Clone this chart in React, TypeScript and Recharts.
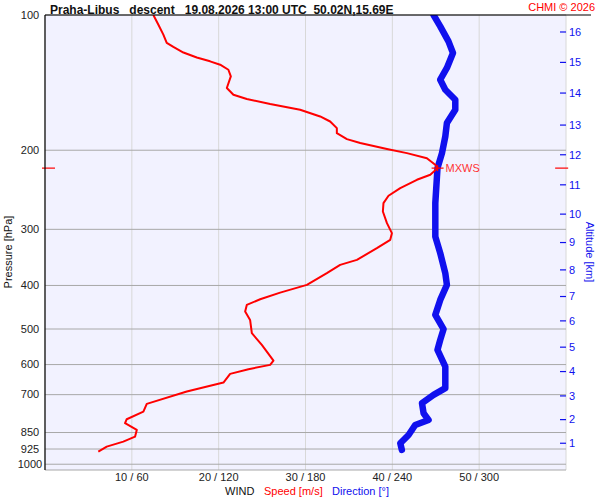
import React from "react";
import {
  ScatterChart,
  Scatter,
  XAxis,
  YAxis,
  CartesianGrid,
  ReferenceLine,
} from "recharts";

// pressure levels drawn on the left axis [hPa]
const pressureTicks = [100, 200, 300, 400, 500, 600, 700, 850, 925, 1000];

// wind speed axis [m/s], label shows speed / direction
const speedTicks = [0, 10, 20, 30, 40, 50, 60];
const speedTickLabels = ["", "10 / 60", "20 / 120", "30 / 180", "40 / 240", "50 / 300", ""];

// altitude scale on the right: km and the pressure it sits at
const altitudeKm = [1, 2, 3, 4, 5, 6, 7, 8, 9, 10, 11, 12, 13, 14, 15, 16];
const altitudePressure = [
  898, 795.6, 704.6, 621.9, 548.8, 479.6, 423.3, 369.3, 321, 277.5, 238.8,
  204.7, 175.8, 149.2, 127.5, 109.1,
];

// wind speed profile
const speedPressure = [
  100, 105.1, 110.6, 115.4, 117.8, 121.2, 124.3, 126.8, 129, 132.4, 137,
  145.4, 150.5, 153.8, 157.8, 162.5, 168.2, 172.6, 178.6, 183.3, 188.9, 192.8,
  198.8, 203, 208.3, 215.5, 219.2, 226.8, 232.7, 242.8, 252.6, 262.2, 273.8,
  290.6, 305.9, 316.6, 330.4, 350.8, 359.9, 375.6, 398.8, 414.9, 429.2, 441.9,
  457.3, 477.2, 510.7, 542.4, 587.8, 600.9, 614.3, 629.3, 658, 689, 734,
  763.6, 794, 810.4, 838.8, 868.2, 890.7, 913.8, 937.5,
];
const speedValues = [
  12.48, 13.06, 13.63, 14.02, 14.78, 15.94, 17.48, 19.01, 20.17, 21.12, 21.4,
  20.94, 21.7, 23.24, 25.93, 29.38, 31.69, 32.84, 33.61, 33.61, 34.77, 36.3,
  39.38, 41.68, 43.98, 44.94, 45.21, 44.37, 42.83, 40.91, 39.56, 38.98, 38.91,
  39.38, 39.95, 39.76, 38.22, 35.92, 33.99, 32.46, 30.16, 27.08, 24.78, 23.24,
  23.05, 23.62, 23.82, 24.97, 26.31, 25.93, 23.43, 21.32, 20.55, 16.33, 11.72,
  11.33, 9.41, 9.22, 10.57, 10.37, 9.02, 7.11, 6.14,
];

// wind direction profile
const dirPressure = [
  100, 106, 114.5, 121.5, 131.2, 139.3, 146.7, 154.4, 162.5, 174, 186.4, 203,
  219.2, 262.2, 311.3, 338.9, 375.6, 398.8, 430.7, 465.1, 500.4, 528.7, 556.6,
  606.2, 677.1, 701, 731.4, 770, 797, 817.7, 860.7, 898, 929.2,
];
const dirValues = [
  268.5, 273.1, 278.8, 281.9, 277.7, 273.1, 276.6, 283.5, 283.5, 277.7, 276.6,
  274.3, 271.2, 269.7, 269.7, 273.1, 276.6, 277.7, 273.1, 269.7, 275.4, 273.1,
  271.2, 276.6, 276.6, 268.5, 260.5, 261.6, 265, 255.8, 251.2, 245.5, 246.6,
];

// maximum wind
const maxWindSpeed = 45.21;
const maxWindPressure = 219.2;

const speedData = speedPressure.map((p, i) => ({ p, v: speedValues[i] }));
const dirData = dirPressure.map((p, i) => ({ p, v: dirValues[i] }));
const maxWindData = [{ p: maxWindPressure, v: maxWindSpeed }];

const FONT = "'Liberation Sans', Arial, sans-serif";
const RED = "#ff0000";
const BLUE = "#1010ee";

const NoDot = () => <g />;

const PressureTick = (props: any) => {
  const { x, y, payload } = props;
  return (
    <text x={x} y={y} dy="0.35em" textAnchor="middle" fontSize={11} fontFamily={FONT} fill="#222">
      {payload.value}
    </text>
  );
};

const AltitudeTick = (props: any) => {
  const { x, y, payload } = props;
  const idx = altitudePressure.indexOf(payload.value);
  return (
    <g>
      <line x1={x - 6} x2={x} y1={y} y2={y} stroke={BLUE} strokeWidth={1.2} />
      <text x={x + 3} y={y} dy="0.35em" textAnchor="start" fontSize={11} fontFamily={FONT} fill={BLUE}>
        {altitudeKm[idx]}
      </text>
    </g>
  );
};

const MaxWindMark = (props: any) => {
  const { cx, cy } = props;
  return (
    <g>
      <line x1={cx - 6} x2={cx + 6} y1={cy} y2={cy} stroke={RED} strokeWidth={1.2} />
      <line x1={cx} x2={cx} y1={cy - 3} y2={cy + 3} stroke={RED} strokeWidth={1.2} />
      <text x={cx + 8} y={cy + 4} fontSize={11} fontFamily={FONT} fill="#f33">
        MXWS
      </text>
    </g>
  );
};

export default function App() {
  return (
    <div style={{ position: "absolute", left: 0, top: 0, width: 600, height: 500, background: "#fff" }}>
      <ScatterChart width={600} height={500} margin={{ top: 15, right: 0, bottom: 0, left: 0 }}>
        <CartesianGrid
          xAxisId="speed"
          yAxisId="p"
          horizontal={false}
          fill="#f2f2ff"
          stroke="#d8d8d8"
        />
        <CartesianGrid xAxisId="speed" yAxisId="p" vertical={false} stroke="#a8a8a8" />
        <XAxis
          xAxisId="speed"
          type="number"
          dataKey="v"
          domain={[0, 60]}
          ticks={speedTicks}
          interval={0}
          allowDataOverflow
          height={30}
          axisLine={false}
          tickLine={false}
          tickSize={0}
          tickMargin={3}
          tick={{ fontSize: 11, fontFamily: FONT, fill: "#222" }}
          tickFormatter={(v: number) => speedTickLabels[speedTicks.indexOf(v)]}
        />
        <XAxis
          xAxisId="dir"
          orientation="top"
          type="number"
          dataKey="v"
          domain={[0, 360]}
          allowDataOverflow
          height={0}
          hide
        />
        <YAxis
          yAxisId="p"
          type="number"
          dataKey="p"
          scale="log"
          domain={[100, 1030]}
          reversed
          allowDataOverflow
          ticks={pressureTicks}
          interval={0}
          width={45}
          axisLine={{ stroke: "#000", strokeWidth: 1.2 }}
          tickLine={false}
          tickSize={0}
          tickMargin={15}
          tick={<PressureTick />}
        />
        <YAxis
          yAxisId="alt"
          orientation="right"
          type="number"
          dataKey="p"
          scale="log"
          domain={[100, 1030]}
          reversed
          allowDataOverflow
          ticks={altitudePressure}
          interval={0}
          width={34}
          axisLine={false}
          tickLine={false}
          tickSize={0}
          tickMargin={0}
          tick={<AltitudeTick />}
        />
        <ReferenceLine
          xAxisId="speed"
          yAxisId="p"
          segment={[{ x: -0.35, y: maxWindPressure }, { x: 1.15, y: maxWindPressure }]}
          stroke={RED}
          strokeWidth={1.2}
          ifOverflow="visible"
        />
        <ReferenceLine
          xAxisId="speed"
          yAxisId="p"
          segment={[{ x: 58.75, y: maxWindPressure }, { x: 60.25, y: maxWindPressure }]}
          stroke={RED}
          strokeWidth={1.2}
          ifOverflow="visible"
        />
        <Scatter
          xAxisId="dir"
          yAxisId="p"
          data={dirData}
          line={{ stroke: BLUE, strokeWidth: 6.5, strokeLinejoin: "round", strokeLinecap: "round" }}
          lineType="joint"
          shape={NoDot}
          isAnimationActive={false}
        />
        <Scatter
          xAxisId="speed"
          yAxisId="p"
          data={speedData}
          line={{ stroke: RED, strokeWidth: 2, strokeLinejoin: "round" }}
          lineType="joint"
          shape={NoDot}
          isAnimationActive={false}
        />
        <Scatter
          xAxisId="speed"
          yAxisId="p"
          data={maxWindData}
          shape={<MaxWindMark />}
          isAnimationActive={false}
        />
      </ScatterChart>
      <svg
        width={600}
        height={500}
        style={{ position: "absolute", left: 0, top: 0, pointerEvents: "none" }}
        fontFamily={FONT}
      >
        <line x1={45} x2={591} y1={15} y2={15} stroke="#000" strokeWidth={1.2} />
        <text x={50} y={14} fontSize={12} fontWeight="bold" fill="#111" style={{ whiteSpace: "pre" }}>
          {"Praha-Libus   descent   19.08.2026 13:00 UTC  50.02N,15.69E"}
        </text>
        <text x={595} y={11} fontSize={11} textAnchor="end" fill={RED}>
          CHMI © 2026
        </text>
        <text x={12} y={252} fontSize={11} textAnchor="middle" fill="#111" transform="rotate(-90 12 252)">
          Pressure [hPa]
        </text>
        <text x={585.5} y={252} fontSize={11} textAnchor="middle" fill={BLUE} transform="rotate(90 585.5 252)">
          Altitude [km]
        </text>
        <text x={225} y={495} fontSize={11} fill="#111">WIND</text>
        <text x={264} y={495} fontSize={11} fill={RED}>Speed [m/s]</text>
        <text x={332} y={495} fontSize={11} fill={BLUE}>Direction [°]</text>
      </svg>
    </div>
  );
}
